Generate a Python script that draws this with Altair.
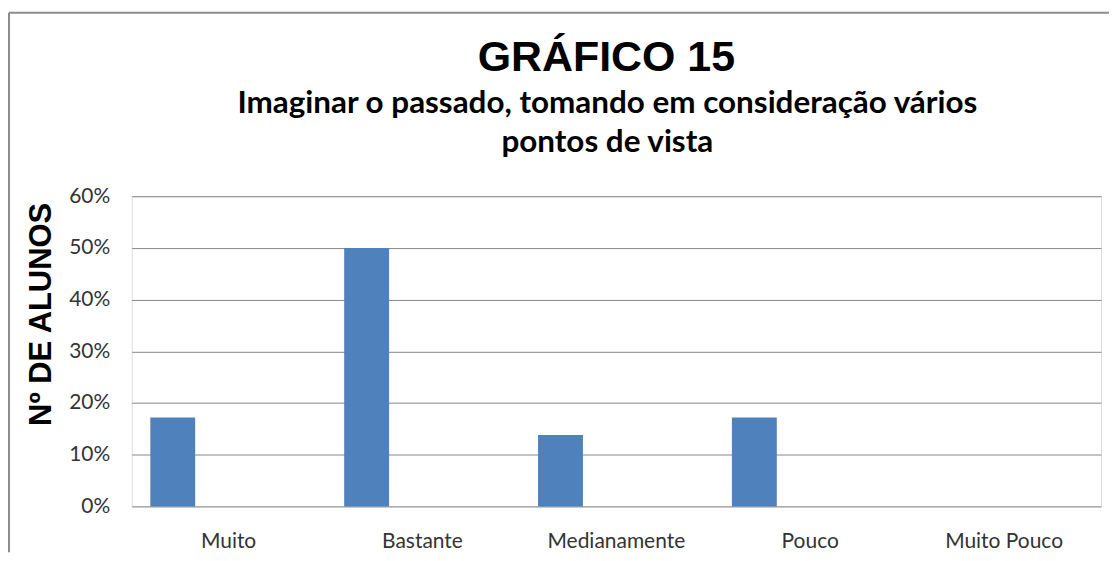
import altair as alt
import pandas as pd

categories = ["Muito", "Bastante", "Medianamente", "Pouco", "Muito Pouco"]
values = [0.172, 0.50, 0.138, 0.172, 0.0]
y_ticks = [0, 0.1, 0.2, 0.3, 0.4, 0.5, 0.6]
title_text = "GRÁFICO 15"
subtitle_lines = ["Imaginar o passado, tomando em consideração vários", "pontos de vista"]

df = pd.DataFrame({"cat": categories, "val": values})
one = pd.DataFrame({"k": [0]})

W, H = 972, 311

bars = alt.Chart(df).mark_bar(size=45, xOffset=-56, color="#4F81BD").encode(
    x=alt.X("cat:N", sort=categories,
            scale=alt.Scale(paddingInner=0, paddingOuter=0),
            axis=alt.Axis(title=None, labelAngle=0, ticks=False, domain=False,
                          labelFont="Lato", labelFontSize=21, labelColor="#333333",
                          labelPadding=24)),
    y=alt.Y("val:Q", scale=alt.Scale(domain=[0, 0.6], nice=False),
            axis=alt.Axis(values=y_ticks, format=".0%", title="Nº DE ALUNOS",
                          titleFont="Liberation Sans", titleFontSize=31,
                          titleFontWeight="bold", titleColor="black",
                          titleAngle=270, titleAlign="center", titleBaseline="middle",
                          titleX=-90, titleY=118,
                          ticks=False, domain=False,
                          labelFont="Lato", labelFontSize=21, labelColor="#333333",
                          labelPadding=22,
                          grid=True, gridColor="#868686", gridWidth=1)),
)

frame_v = alt.Chart(one).mark_rule(color="#8C8C8C", strokeWidth=2).encode(
    x=alt.value(-123), y=alt.value(-184), y2=alt.value(H + 46)
)
frame_h = alt.Chart(one).mark_rule(color="#8C8C8C", strokeWidth=2).encode(
    x=alt.value(-123), x2=alt.value(W + 10), y=alt.value(-184)
)

title_mark = alt.Chart(one).mark_text(
    text=title_text, font="Liberation Sans", fontSize=43, fontWeight="bold",
    color="black", align="center", baseline="alphabetic"
).encode(x=alt.value(476), y=alt.value(-126))

sub1 = alt.Chart(one).mark_text(
    text=subtitle_lines[0], font="Lato", fontSize=31.5, fontWeight="bold",
    color="black", align="center", baseline="alphabetic"
).encode(x=alt.value(477), y=alt.value(-83))

sub2 = alt.Chart(one).mark_text(
    text=subtitle_lines[1], font="Lato", fontSize=31.5, fontWeight="bold",
    color="black", align="center", baseline="alphabetic"
).encode(x=alt.value(477), y=alt.value(-44))

chart = alt.layer(frame_v, frame_h, title_mark, sub1, sub2, bars).properties(
    width=W, height=H,
    autosize=alt.AutoSizeParams(type="none"),
    padding={"left": 124, "top": 188, "right": 8, "bottom": 46},
).configure_view(stroke=None).configure(background="white")

chart.save("out.html", embed_options={"renderer": "svg", "actions": False})
